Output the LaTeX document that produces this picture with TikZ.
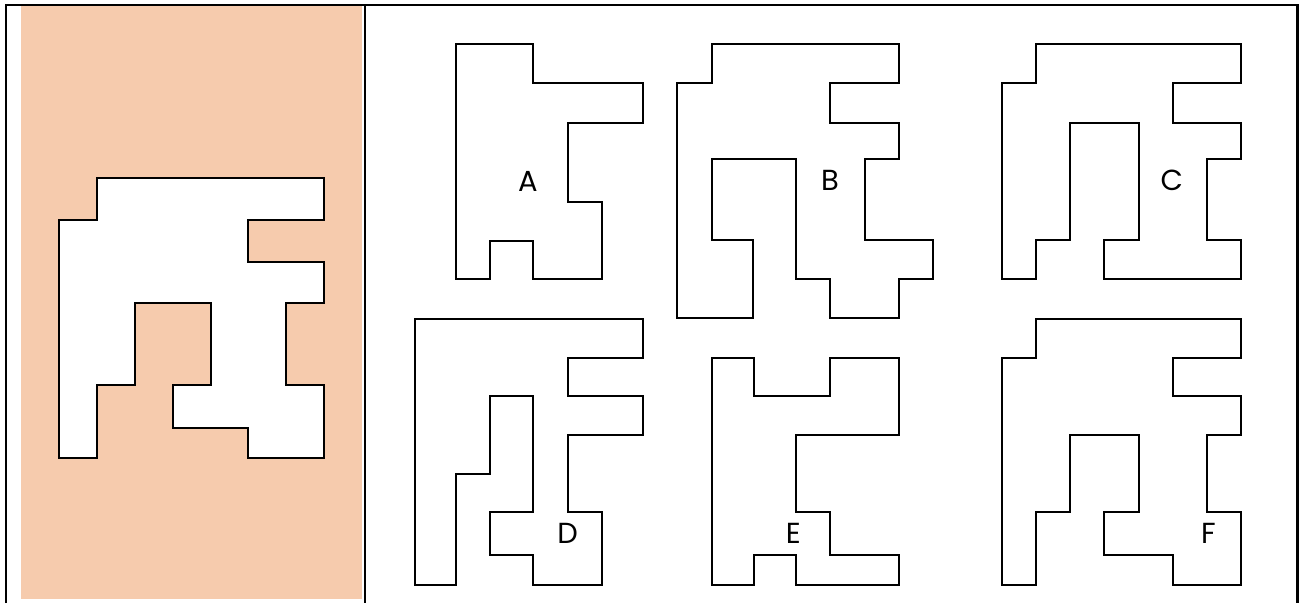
\documentclass[tikz,border=0pt]{standalone}
\usepackage{fontspec}
\setmainfont{Poppins}
\usetikzlibrary{positioning}
\definecolor{peach}{RGB}{246,203,173}
\tikzset{
  frame/.style = {line width=2.2pt},
  piece/.style = {line width=1.8pt, line join=miter},
  lbl/.style   = {inner sep=0pt, font=\fontsize{29}{29}\selectfont}
}

\begin{document}
\begin{tikzpicture}[x=1pt, y=-1pt]  % pixel grid, y pointing down
  \useasboundingbox (0,0) rectangle (1303,603);

  %  --  Left panel: the given figure on a peach background
  \fill[peach] (21,6) rectangle (362,598.5);
  \draw[piece, fill=white] (97,178) -- (324,178) -- (324,220) -- (248,220) -- (248,262) -- (324,262)
    -- (324,303) -- (286,303) -- (286,385) -- (324,385) -- (324,458) -- (248,458) -- (248,428)
    -- (173,428) -- (173,385) -- (211,385) -- (211,303) -- (135,303) -- (135,385) -- (97,385)
    -- (97,458) -- (59,458) -- (59,220) -- (97,220) -- cycle;

  %  --  Frame and divider
  \draw[frame] (6,603) |- (1297.5,5) -- (1297.5,603);
  \draw[frame] (365,5) -- (365,603);

  %  --  Top row: A, B, C
  \draw[piece] (455.7,43.7) -- (533.3,43.7) -- (533.3,82.7) -- (642.7,82.7) -- (642.7,122.7)
    -- (567.7,122.7) -- (567.7,201.7) -- (602,201.7) -- (602,279.3) -- (533.3,279.3)
    -- (533.3,240.7) -- (490,240.7) -- (490,279.3) -- (455.7,279.3) -- cycle;
  \node[lbl] (labA) at (528,181.7) {A};

  \draw[piece] (711.7,43.7) -- (898.7,43.7) -- (898.7,82.7) -- (830,82.7) -- (830,122.7)
    -- (898.7,122.7) -- (898.7,159.3) -- (864.7,159.3) -- (864.7,240) -- (933.3,240)
    -- (933.3,279.3) -- (898.7,279.3) -- (898.7,318.3) -- (830,318.3) -- (830,279.3)
    -- (796,279.3) -- (796,159.3) -- (711.7,159.3) -- (711.7,240) -- (753.3,240)
    -- (753.3,318.3) -- (677,318.3) -- (677,82.7) -- (711.7,82.7) -- cycle;
  \node[lbl] (labB) at (830,180) {B};

  \draw[piece] (1035.7,43.7) -- (1241.3,43.7) -- (1241.3,82.7) -- (1172.7,82.7) -- (1172.7,122.7)
    -- (1241.3,122.7) -- (1241.3,159.3) -- (1207,159.3) -- (1207,240) -- (1241.3,240)
    -- (1241.3,279.3) -- (1104.3,279.3) -- (1104.3,240) -- (1138.7,240) -- (1138.7,122.7)
    -- (1069.7,122.7) -- (1069.7,240) -- (1035.7,240) -- (1035.7,279.3) -- (1002.3,279.3)
    -- (1002.3,82.7) -- (1035.7,82.7) -- cycle;
  \node[lbl] (labC) at (1171.7,180) {C};

  %  --  Bottom row: D, E, F
  \draw[piece] (415,319) -- (642.7,319) -- (642.7,357.7) -- (567.7,357.7) -- (567.7,396)
    -- (642.7,396) -- (642.7,434.7) -- (567.7,434.7) -- (567.7,512.3) -- (602,512.3)
    -- (602,585) -- (533.3,585) -- (533.3,555) -- (490,555) -- (490,512.3) -- (533.3,512.3)
    -- (533.3,396) -- (490,396) -- (490,473.7) -- (455.7,473.7) -- (455.7,585) -- (415,585) -- cycle;
  \node[lbl] (labD) at (567.7,533.3) {D};

  \draw[piece] (712,358) -- (754,358) -- (754,396) -- (830,396) -- (830,358) -- (899.3,358)
    -- (899.3,435) -- (796,435) -- (796,512.3) -- (830,512.3) -- (830,555) -- (899.3,555)
    -- (899.3,585) -- (796,585) -- (796,555) -- (754,555) -- (754,585) -- (712,585) -- cycle;
  \node[lbl] (labE) at (793.3,533.3) {E};

  \draw[piece] (1035.7,319) -- (1241.3,319) -- (1241.3,357.7) -- (1172.7,357.7) -- (1172.7,396)
    -- (1241.3,396) -- (1241.3,434.7) -- (1207,434.7) -- (1207,512.3) -- (1241.3,512.3)
    -- (1241.3,585) -- (1172.7,585) -- (1172.7,555) -- (1104.3,555) -- (1104.3,512.3)
    -- (1138.7,512.3) -- (1138.7,434.7) -- (1069.7,434.7) -- (1069.7,512.3) -- (1035.7,512.3)
    -- (1035.7,585) -- (1002.3,585) -- (1002.3,357.7) -- (1035.7,357.7) -- cycle;
  \node[lbl] (labF) at (1208.3,533.3) {F};
\end{tikzpicture}
\end{document}
